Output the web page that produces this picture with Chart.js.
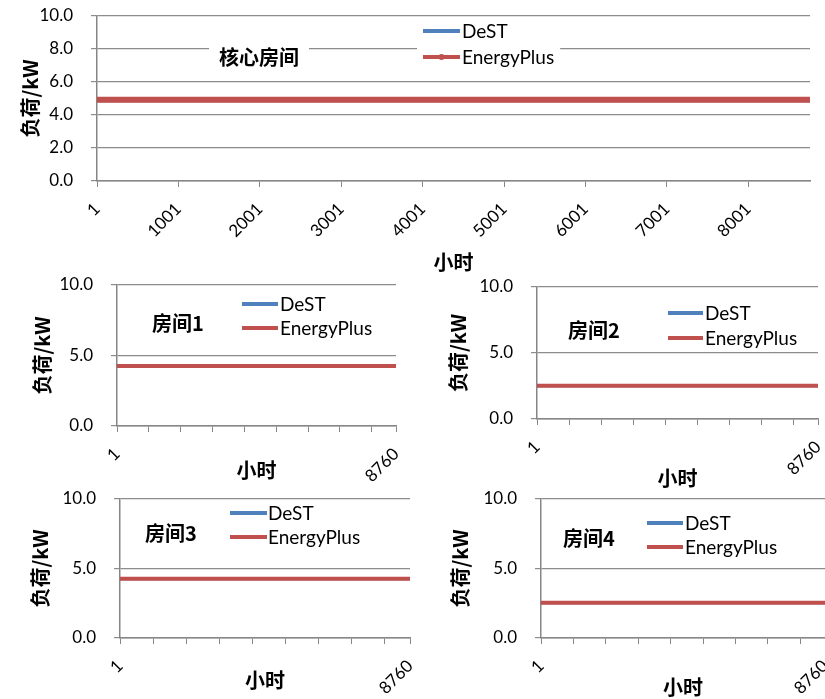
<!DOCTYPE html>
<html>
<head>
<meta charset="utf-8">
<script src="https://cdn.jsdelivr.net/npm/chart.js@4/dist/chart.umd.min.js"></script>
<style>
  body { margin: 0; background: #fff; width: 825px; height: 699px; position: relative; overflow: hidden; }
  canvas { position: absolute; }
</style>
</head>
<body>
<canvas id="core"></canvas>
<canvas id="room1"></canvas>
<canvas id="room2"></canvas>
<canvas id="room3"></canvas>
<canvas id="room4"></canvas>
<script>
// hourly load, flat over the whole year (kW)
const hours = [1, 8760];
const coreDeST = [4.93, 4.93];
const coreEPlus = [4.93, 4.93];
const room1DeST = [4.25, 4.25];
const room1EPlus = [4.25, 4.25];
const room2DeST = [2.52, 2.52];
const room2EPlus = [2.52, 2.52];
const room3DeST = [4.27, 4.27];
const room3EPlus = [4.27, 4.27];
const room4DeST = [2.53, 2.53];
const room4EPlus = [2.53, 2.53];

const seriesNames = ['DeST', 'EnergyPlus'];
const coreTicks = [1, 1001, 2001, 3001, 4001, 5001, 6001, 7001, 8001];
const roomTicks = [1, 1001, 2001, 3001, 4001, 5001, 6001, 7001, 8001, 8760];
const roomTickLabels = ['1', '8760'];

const BLUE = '#4F81BD';
const RED = '#C0504D';
const CJK = '"Noto Sans CJK SC", "Noto Sans", sans-serif';
const LATIN = 'Lato, "Noto Sans", sans-serif';

// draws the in-plot title and the legend (white box behind them)
const boxLegend = {
  id: 'boxLegend',
  beforeDatasetsDraw(chart, args, o) {
    const ctx = chart.ctx;
    ctx.save();
    ctx.font = 'bold 20px ' + CJK;
    const tw = ctx.measureText(o.title).width;
    const tx = o.tx - o.cx, ty = o.ty - o.cy;
    ctx.fillStyle = '#fff';
    ctx.fillRect(tx - tw / 2 - 10, ty - 14, tw + 20, 28);
    ctx.fillStyle = '#000';
    ctx.textAlign = 'center';
    ctx.textBaseline = 'middle';
    ctx.fillText(o.title, tx, ty);

    ctx.font = '19px ' + LATIN;
    const lx = o.lx - o.cx;
    const rows = o.rows.map(r => r - o.cy);
    const w = ctx.measureText(seriesNames[1]).width;
    ctx.fillStyle = '#fff';
    ctx.fillRect(lx - 6, rows[0] - 11, (o.textX - o.lx) + w + 12, rows[1] - rows[0] + 22);
    chart.data.datasets.forEach(function(ds, i) {
      ctx.strokeStyle = ds.borderColor;
      ctx.lineWidth = 4;
      ctx.beginPath();
      ctx.moveTo(lx, rows[i]);
      ctx.lineTo(lx + o.lineLen, rows[i]);
      ctx.stroke();
      if (o.marker && i === 1) {
        ctx.fillStyle = ds.borderColor;
        ctx.beginPath();
        ctx.arc(lx + o.lineLen / 2, rows[i], 3, 0, Math.PI * 2);
        ctx.fill();
      }
      ctx.fillStyle = '#000';
      ctx.textAlign = 'left';
      ctx.textBaseline = 'middle';
      ctx.fillText(ds.label, o.textX - o.cx, rows[i] + 1);
    });
    ctx.restore();
  }
};

function points(ys) {
  return hours.map((h, i) => ({ x: h, y: ys[i] }));
}

// box: canvas rect, plot: wanted chart area, extra: room below the x title
function makeChart(id, box, plot, yTitleX, deSt, ePlus, opts) {
  const el = document.getElementById(id);
  const extra = opts.extra || 0;
  el.style.left = box.x + 'px';
  el.style.top = box.y + 'px';
  el.width = box.w;
  el.height = box.h + extra;
  const padLeft = yTitleX - 12 - box.x;
  return new Chart(el, {
    type: 'line',
    data: {
      datasets: [
        { label: seriesNames[0], data: points(deSt), borderColor: BLUE, borderWidth: opts.width - 1, pointRadius: 0, order: 1 },
        { label: seriesNames[1], data: points(ePlus), borderColor: RED, borderWidth: opts.width, pointRadius: 0, order: 0 }
      ]
    },
    options: {
      responsive: false,
      animation: false,
      events: [],
      layout: { padding: { left: padLeft, top: plot.t - box.y, right: box.x + box.w - plot.r, bottom: 0 } },
      plugins: {
        legend: { display: false },
        tooltip: { enabled: false },
        boxLegend: Object.assign({ cx: box.x, cy: box.y }, opts.legend)
      },
      scales: {
        x: {
          type: 'linear',
          min: 1,
          max: 8760,
          afterBuildTicks: function(scale) {
            scale.ticks = opts.ticks.map(v => ({ value: v }));
          },
          afterFit: function(scale) {
            scale.height = box.y + box.h + extra - plot.b;
            scale.paddingLeft = 0;
            scale.paddingRight = 0;
          },
          ticks: {
            autoSkip: false,
            minRotation: 45,
            maxRotation: 45,
            padding: 12,
            color: '#000',
            font: { family: LATIN, size: 17 },
            callback: opts.tickLabel
          },
          grid: { drawOnChartArea: false, tickLength: 6, color: '#868686' },
          border: { color: '#868686', width: 1.5 },
          title: {
            display: true, text: '小时', color: '#000',
            padding: { top: 0, bottom: extra },
            font: { family: CJK, size: 20, weight: 'bold' }
          }
        },
        y: {
          min: 0,
          max: 10,
          afterBuildTicks: function(scale) {
            scale.ticks = opts.yTicks.map(v => ({ value: v }));
          },
          afterFit: function(scale) {
            scale.width = plot.l - box.x - padLeft;
            scale.paddingTop = 0;
            scale.paddingBottom = 0;
          },
          ticks: {
            padding: opts.yPad,
            color: '#000',
            font: { family: LATIN, size: 17 },
            callback: v => v.toFixed(1)
          },
          grid: { color: '#8c8c8c', tickLength: 6, lineWidth: 1.2 },
          border: { color: '#868686', width: 1.5 },
          title: { display: true, text: '负荷/kW', color: '#000', padding: 0, font: { family: CJK, size: 20, weight: 'bold' } }
        }
      }
    },
    plugins: [boxLegend]
  });
}

const coreLabel = v => String(v);
const roomLabel = v => roomTickLabels.includes(String(v)) ? String(v) : '';

makeChart('core', { x: 0, y: 0, w: 825, h: 274 }, { l: 97, r: 810, t: 16, b: 181 }, 30,
  coreDeST, coreEPlus, {
    width: 6, ticks: coreTicks, tickLabel: coreLabel, yTicks: [0, 2, 4, 6, 8, 10], yPad: 18,
    legend: { title: '核心房间', tx: 259, ty: 57, lx: 423, lineLen: 37, textX: 462, rows: [31, 57], marker: true }
  });

makeChart('room1', { x: 0, y: 274, w: 412, h: 208 }, { l: 117, r: 396, t: 285, b: 426 }, 42,
  room1DeST, room1EPlus, {
    width: 4, ticks: roomTicks, tickLabel: roomLabel, yTicks: [0, 5, 10], yPad: 18, extra: 7,
    legend: { title: '房间1', tx: 178, ty: 323, lx: 242, lineLen: 36, textX: 280, rows: [304, 328] }
  });

makeChart('room2', { x: 412, y: 274, w: 413, h: 216 }, { l: 537, r: 818, t: 287, b: 419 }, 458,
  room2DeST, room2EPlus, {
    width: 4, ticks: roomTicks, tickLabel: roomLabel, yTicks: [0, 5, 10], yPad: 18,
    legend: { title: '房间2', tx: 594, ty: 330, lx: 668, lineLen: 35, textX: 705, rows: [313, 338] }
  });

makeChart('room3', { x: 0, y: 490, w: 412, h: 202 }, { l: 120, r: 410, t: 499, b: 638 }, 40,
  room3DeST, room3EPlus, {
    width: 4, ticks: roomTicks, tickLabel: roomLabel, yTicks: [0, 5, 10], yPad: 18, extra: 7,
    legend: { title: '房间3', tx: 171, ty: 533, lx: 230, lineLen: 37, textX: 268, rows: [513, 537] }
  });

makeChart('room4', { x: 412, y: 490, w: 413, h: 209 }, { l: 541, r: 825, t: 499, b: 638 }, 460,
  room4DeST, room4EPlus, {
    width: 4, ticks: roomTicks, tickLabel: roomLabel, yTicks: [0, 5, 10], yPad: 18,
    legend: { title: '房间4', tx: 589, ty: 538, lx: 647, lineLen: 36, textX: 685, rows: [523, 547] }
  });
</script>
</body>
</html>
